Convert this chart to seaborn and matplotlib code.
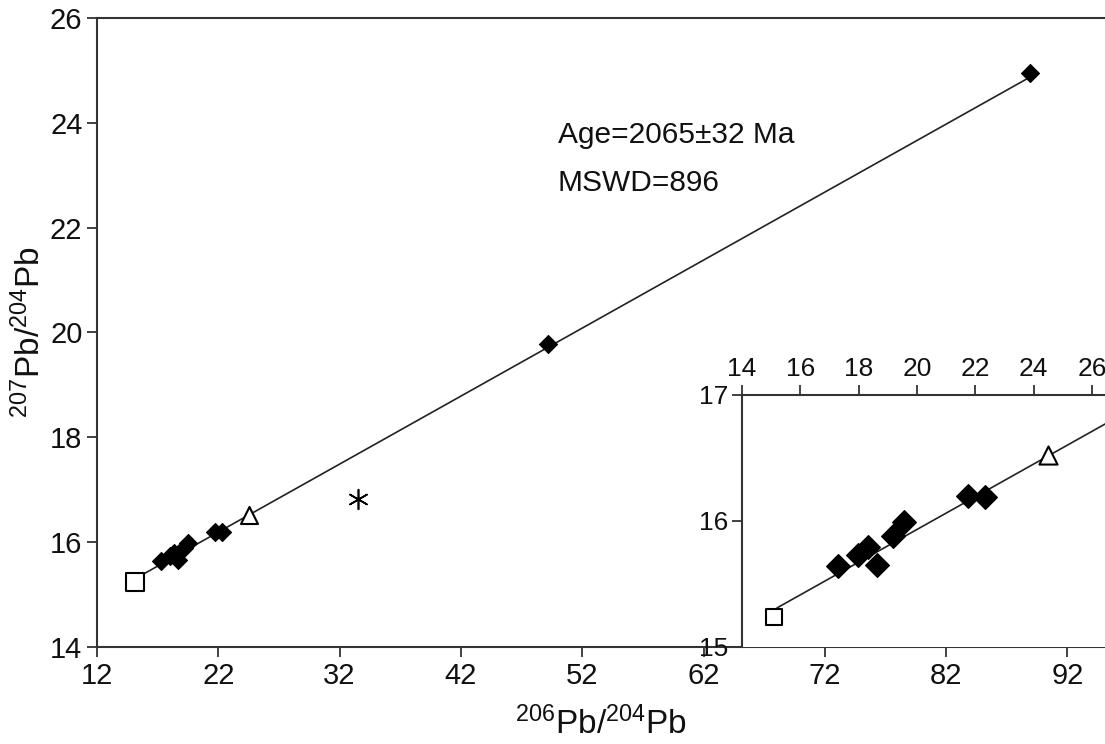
import numpy as np
import pandas as pd
import seaborn as sns
import matplotlib.pyplot as plt

# data
pb206_samples = [17.28, 17.99, 18.32, 18.64, 19.17, 19.54, 21.74, 22.32, 49.2, 88.9]
pb207_samples = [15.64, 15.73, 15.79, 15.65, 15.88, 15.99, 16.20, 16.19, 19.78, 24.95]
pb206_square = [15.1]
pb207_square = [15.24]
pb206_triangle = [24.5]
pb207_triangle = [16.52]
pb206_star = [33.5]
pb207_star = [16.82]
# isochron end points
fit_x = [15.2, 88.9]
fit_y = [15.31, 24.87]

main_xticks = [12, 22, 32, 42, 52, 62, 72, 82, 92]
main_yticks = [14, 16, 18, 20, 22, 24, 26]
inset_xticks = [14, 16, 18, 20, 22, 24, 26]
inset_yticks = [15, 16, 17]

sns.set_style('ticks')
plt.rcParams['font.family'] = ['Liberation Sans', 'DejaVu Sans']
plt.rcParams['mathtext.fontset'] = 'custom'
plt.rcParams['mathtext.rm'] = 'Liberation Sans'
plt.rcParams['text.color'] = '#111111'
plt.rcParams['xtick.color'] = '#111111'
plt.rcParams['ytick.color'] = '#111111'
plt.rcParams['axes.labelcolor'] = '#111111'

fig = plt.figure(figsize=(11.05, 7.44), dpi=100)
ax = fig.add_axes([0.0878, 0.1304, 0.9122, 0.8454])

spine_col = '#333333'

def draw(a, big=True):
    s_d = 85 if big else 145
    s_sq = 150 if big else 120
    s_tri = 150 if big else 170
    sns.lineplot(x=fit_x, y=fit_y, ax=a, color='#222222', linewidth=1.2, zorder=2)
    sns.scatterplot(x=pb206_samples, y=pb207_samples, ax=a, marker='D', s=s_d,
                    color='black', edgecolor='black', zorder=3)
    sns.scatterplot(x=pb206_square, y=pb207_square, ax=a, marker='s', s=s_sq,
                    color='white', edgecolor='black', linewidth=1.5, zorder=3)
    sns.scatterplot(x=pb206_triangle, y=pb207_triangle, ax=a, marker='^', s=s_tri,
                    color='white', edgecolor='black', linewidth=1.5, zorder=3)

draw(ax, True)
ax.scatter(pb206_star, pb207_star, marker=(6, 2, 0), s=200, color='black',
           linewidth=1.2, zorder=3)

ax.set_xlim(12, 95.1)
ax.set_ylim(14, 26)
ax.set_xticks(main_xticks)
ax.set_yticks(main_yticks)
ax.tick_params(direction='out', length=7, width=1.3, color=spine_col, labelsize=21)
for side in ['left', 'bottom', 'top']:
    ax.spines[side].set_color(spine_col)
    ax.spines[side].set_linewidth(1.5)
ax.spines['right'].set_visible(False)
ax.set_xlabel(r'$\mathregular{^{206}Pb/^{204}Pb}$', fontsize=24, labelpad=12)
ax.set_ylabel(r'$\mathregular{^{207}Pb/^{204}Pb}$', fontsize=24, labelpad=2)

ax.text(50.0, 23.77, 'Age=2065\u00b132 Ma', fontsize=21.5, va='center', ha='left')
ax.text(50.0, 22.85, 'MSWD=896', fontsize=21.5, va='center', ha='left')

# inset
ins = fig.add_axes([0.6715, 0.1304, 0.3285, 0.3387])
ins.set_facecolor('white')
draw(ins, False)
ins.set_xlim(14, 26.45)
ins.set_ylim(15, 17)
ins.set_xticks(inset_xticks)
ins.set_yticks(inset_yticks)
ins.xaxis.tick_top()
ins.tick_params(direction='out', length=7, width=1.3, color=spine_col, labelsize=19, pad=3)
ins.spines['right'].set_visible(False)
ins.spines['bottom'].set_visible(False)
for side in ['left', 'top']:
    ins.spines[side].set_color(spine_col)
    ins.spines[side].set_linewidth(1.5)

fig.savefig('out.png', dpi=100)
